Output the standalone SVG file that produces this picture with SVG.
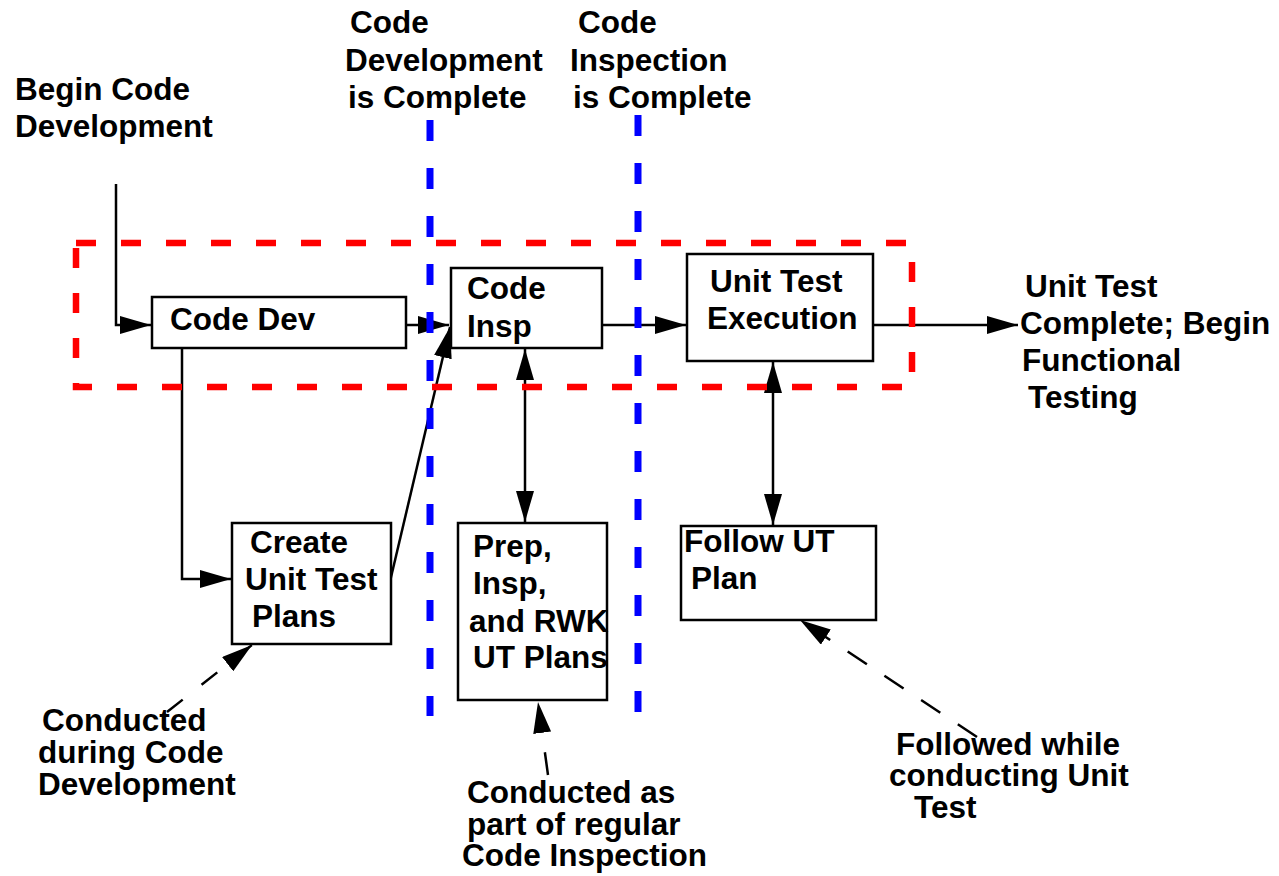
<svg xmlns="http://www.w3.org/2000/svg" width="1279" height="876" viewBox="0 0 1279 876">
<style>
text{font-family:"Liberation Sans",Arial,sans-serif;font-weight:bold;font-size:31.5px;fill:#000}
.box{fill:#fff;stroke:#000;stroke-width:2.5}
.con{fill:none;stroke:#000;stroke-width:2.5}
.dash{fill:none;stroke:#000;stroke-width:2.5}
.red{fill:none;stroke:#f00;stroke-width:6.5;stroke-dasharray:20 25}
.blue{fill:none;stroke:#00f;stroke-width:7;stroke-dasharray:21 27}
</style>
<defs>
<marker id="ah" markerWidth="32" markerHeight="18" refX="31" refY="9" orient="auto-start-reverse" markerUnits="userSpaceOnUse">
<path d="M0,0 L31,9 L0,18 z" fill="#000"/>
</marker>
</defs>
<rect fill="#fff" width="1279" height="876"/>

<g id="connectors">
<path class="con" d="M116,184 V325 H151" marker-end="url(#ah)"/>
<path class="con" d="M406,325 H449" marker-end="url(#ah)"/>
<path class="con" d="M388,590 L450,327" marker-end="url(#ah)"/>
<path class="con" d="M182,348 V579 H231" marker-end="url(#ah)"/>
<path class="con" d="M525,349 V522" marker-start="url(#ah)" marker-end="url(#ah)"/>
<path class="con" d="M603,325 H686" marker-end="url(#ah)"/>
<path class="con" d="M773,362 V525" marker-start="url(#ah)" marker-end="url(#ah)"/>
<path class="con" d="M873,325 H1018" marker-end="url(#ah)"/>
<path class="dash" style="stroke-dasharray:20 24" d="M167,712 L252,645" marker-end="url(#ah)"/>
<path class="dash" style="stroke-dasharray:23 20" d="M548,775 L538,702" marker-end="url(#ah)"/>
<path class="dash" style="stroke-dasharray:23 21" d="M977,737 L800,620" marker-end="url(#ah)"/>
</g>

<g id="phase-boundaries">
<rect class="red" x="76" y="243" width="836" height="144"/>
<line class="blue" x1="430" y1="120" x2="430" y2="716"/>
<line class="blue" x1="638" y1="115" x2="638" y2="712"/>
</g>

<g id="code-dev">
<rect class="box" x="152" y="297" width="254" height="51"/>
<text x="170" y="330">Code Dev</text>
</g>
<g id="code-insp">
<rect class="box" x="451" y="268" width="151" height="80"/>
<text x="467" y="299">Code</text>
<text x="467" y="337">Insp</text>
</g>
<g id="unit-test-execution">
<rect class="box" x="687" y="254" width="186" height="107"/>
<text x="710" y="292">Unit Test</text>
<text x="707" y="329">Execution</text>
</g>
<g id="create-ut-plans">
<rect class="box" x="232" y="523" width="159" height="121"/>
<text x="250" y="553">Create</text>
<text x="245" y="590">Unit Test</text>
<text x="252" y="627">Plans</text>
</g>
<g id="prep-insp-rwk">
<rect class="box" x="458" y="523" width="149" height="177"/>
<text x="473" y="557">Prep,</text>
<text x="473" y="594">Insp,</text>
<text x="469" y="632">and RWK</text>
<text x="473" y="668">UT Plans</text>
</g>
<g id="follow-ut-plan">
<rect class="box" x="681" y="526" width="195" height="94"/>
<text x="684" y="552">Follow UT</text>
<text x="691" y="589">Plan</text>
</g>

<g id="label-begin">
<text x="15" y="100">Begin Code</text>
<text x="15" y="137">Development</text>
</g>
<g id="label-dev-complete">
<text x="350" y="33">Code</text>
<text x="345" y="71">Development</text>
<text x="348" y="108">is Complete</text>
</g>
<g id="label-insp-complete">
<text x="578" y="33">Code</text>
<text x="570" y="71">Inspection</text>
<text x="573" y="108">is Complete</text>
</g>
<g id="label-ut-complete">
<text x="1025" y="297">Unit Test</text>
<text x="1020" y="334">Complete; Begin</text>
<text x="1022" y="371">Functional</text>
<text x="1028" y="408">Testing</text>
</g>
<g id="note-code-dev">
<text x="42" y="731">Conducted</text>
<text x="38" y="763">during Code</text>
<text x="38" y="795">Development</text>
</g>
<g id="note-code-insp">
<text x="467" y="803">Conducted as</text>
<text x="467" y="835">part of regular</text>
<text x="462" y="866">Code Inspection</text>
</g>
<g id="note-follow">
<text x="896" y="755">Followed while</text>
<text x="889" y="786">conducting Unit</text>
<text x="914" y="818">Test</text>
</g>
</svg>
